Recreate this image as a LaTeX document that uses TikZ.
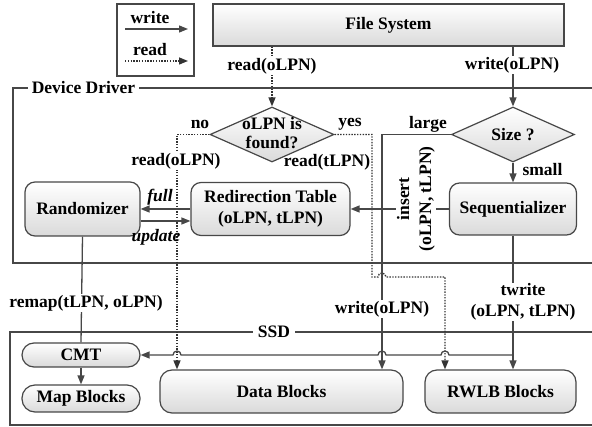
\documentclass[tikz,border=0pt]{standalone}
\usepackage{fontspec}
\setmainfont{Liberation Serif}
\usetikzlibrary{arrows.meta,shapes.geometric}
\definecolor{lc}{HTML}{474747}
\definecolor{bc}{HTML}{DADADA}
\begin{document}
\begin{tikzpicture}[x=1pt,y=-1pt,
  font=\fontsize{17.5}{21}\selectfont\bfseries,
  ln/.style={draw=lc, line width=1.3pt},
  arr/.style={ln, -{Triangle[length=9pt,width=7pt]}},
  rd/.style={draw=black!80, line width=1.4pt, dash pattern=on 1.4pt off 1.4pt},
  box/.style={draw=lc, line width=1.2pt, rounded corners=10pt, top color=white, bottom color=bc, align=center, inner sep=0pt},
  dia/.style={diamond, draw=lc, line width=1.2pt, top color=white, bottom color=bc, inner sep=0pt},
  frame/.style={draw=lc, line width=2pt},
  lbl/.style={fill=white, inner sep=1pt, align=center},
  txt/.style={inner sep=0pt, align=center}]
\useasboundingbox (0,0) rectangle (592,427);

% frames
\draw[frame] (600,88) -- (13,88) -- (13,263) -- (600,263);
\node[fill=white, inner sep=4pt] (ddl) at (83.5,88) {Device Driver};
\draw[frame] (600,332) -- (10,332) -- (10,425) -- (600,425);
\node[fill=white, inner sep=5pt] (ssdl) at (274,332) {SSD};

% legend
\node[draw=lc, line width=1.8pt, minimum width=77pt, minimum height=72pt] (leg) at (155.5,40) {};
\node[txt] (lw) at (150,18) {write};
\coordinate (lw1) at (125,29);
\coordinate (lw2) at (188,29);
\draw[arr] (lw1) -- (lw2);
\node[txt] (lr) at (150,50) {read};
\coordinate (lr1) at (125,61);
\coordinate (lr2) at (188,61);
\draw[arr,rd] (lr1) -- (lr2);

% boxes
\node[box, rounded corners=0pt, minimum width=351pt, minimum height=42pt] (fs) at (388.5,25) {File System};
\node[dia, minimum width=124pt, minimum height=55pt] (dfound) at (272,134.5) {};
\node[txt, font=\fontsize{17.5}{19}\selectfont\bfseries] (dft) at (272,133.5) {oLPN is\\found?};
\node[dia, minimum width=123pt, minimum height=55pt] (dsize) at (513,134.5) {};
\node[txt] (dst) at (dsize) {Size ?};
\node[box, minimum width=127pt, minimum height=52pt] (seq) at (513,209) {Sequentializer};
\node[box, minimum width=159pt, minimum height=53pt] (red) at (270.5,209) {Redirection Table\\(oLPN, tLPN)};
\node[box, minimum width=115pt, minimum height=54pt] (ran) at (82.5,209) {Randomizer};
\node[box, rounded corners=12pt, minimum width=118pt, minimum height=24pt] (cmt) at (81,355) {CMT};
\node[box, rounded corners=13pt, minimum width=118pt, minimum height=27pt] (map) at (81,398.5) {Map Blocks};
\node[box, rounded corners=12pt, minimum width=243pt, minimum height=43pt] (data) at (281.5,391.5) {Data Blocks};
\node[box, rounded corners=12pt, minimum width=151pt, minimum height=43pt] (rwlb) at (500.5,391.5) {RWLB Blocks};

\coordinate (xn) at (177,0);
\coordinate (xy) at (445,0);
\coordinate (xl) at (382,0);

% connectors
\draw[arr,rd] (fs.south -| dfound.north) -- (dfound.north);
\draw[arr] (fs.south -| dsize.north) -- (dsize.north);
\draw[arr,rd] (dfound.west) -| (xn |- data.north);
\draw[arr,rd] (dfound.east) -| (372,277) -- (378,277) arc (180:360:4) -| (xy |- rwlb.north);
\draw[arr] (dsize.west) -| (xl |- data.north);
\draw[arr] (dsize.south) -- (seq.north);
\draw[arr] (seq.west) -- (red.east);
\draw[arr] (red.west) -- (ran.east);
\draw[arr] (ran.east |- 0,221) -- (red.west |- 0,221);
\draw[ln] (ran.south) -- (cmt.north);
\draw[arr] (cmt.south) -- (map.north);
\draw[arr] (seq.south) -- (rwlb.north -| seq.south);
\draw[arr] (seq.south |- cmt.east) -- (449,355) arc (0:-180:4) -- (386,355) arc (0:-180:4) -- (181,355) arc (0:-180:4) -- (cmt.east);

% labels
\node[lbl] (l1) at (272,66) {read(oLPN)};
\node[lbl] (l2) at (512,65) {write(oLPN)};
\node[txt] (l3) at (200,124) {no};
\node[txt] (l4) at (350,124) {yes};
\node[lbl] (l5) at (176,161) {read(oLPN)};
\node[txt] (l6) at (327,162) {read(tLPN)};
\node[txt] (l7) at (428,124) {large};
\node[txt] (l8) at (542.5,170) {small};
\node[lbl, rotate=90, font=\fontsize{17.5}{22}\selectfont\bfseries] (l9) at (416,199) {insert\\(oLPN, tLPN)};
\node[txt, font=\fontsize{17.5}{21}\selectfont\bfseries\itshape] (l10) at (160,197) {full};
\node[txt, font=\fontsize{17.5}{21}\selectfont\bfseries\itshape] (l11) at (156,237) {update};
\node[lbl] (l12) at (86,303) {remap(tLPN, oLPN)};
\node[lbl] (l13) at (382,309) {write(oLPN)};
\node[lbl] (l14) at (523,302) {twrite\\(oLPN, tLPN)};
\end{tikzpicture}
\end{document}
